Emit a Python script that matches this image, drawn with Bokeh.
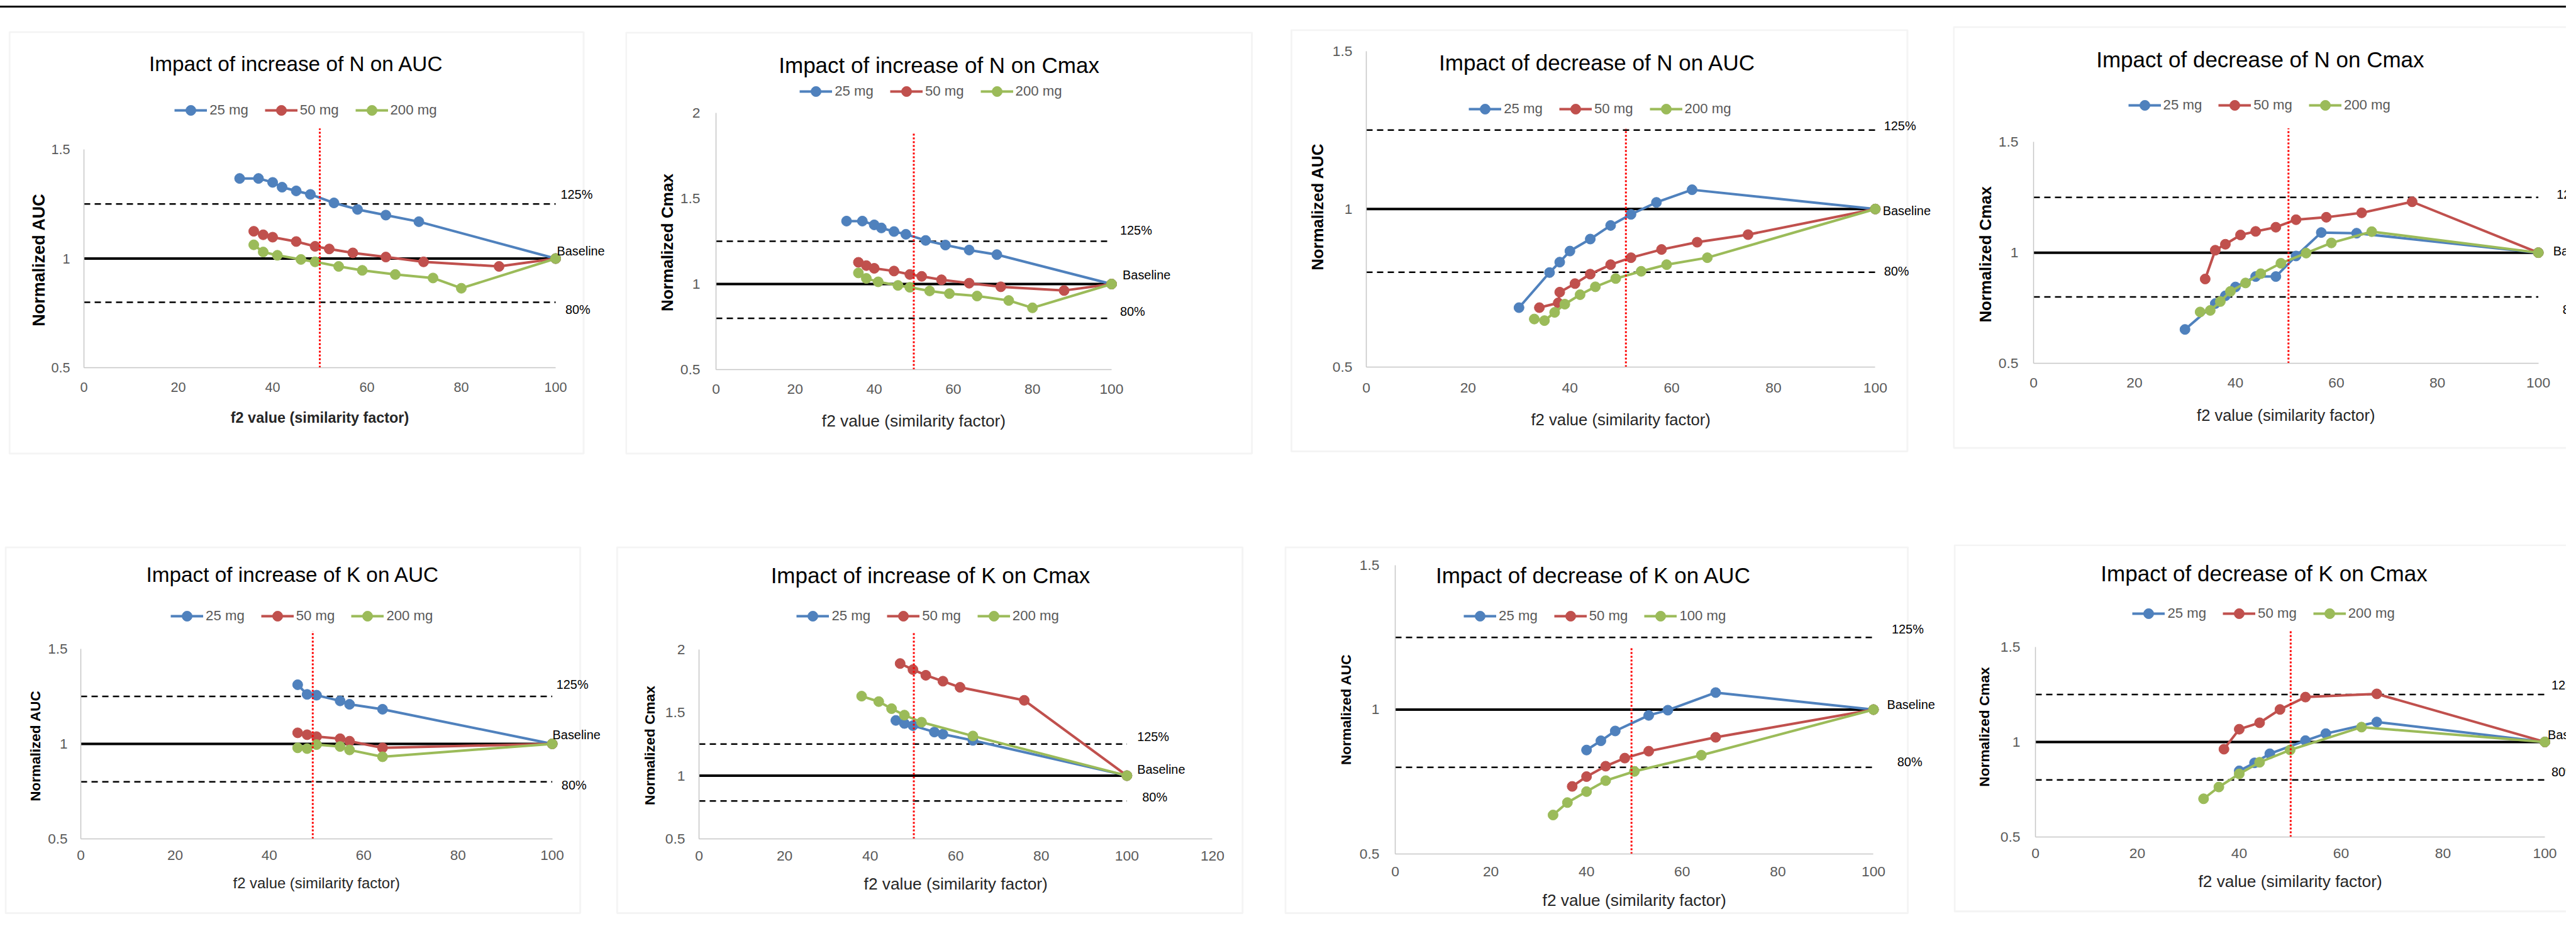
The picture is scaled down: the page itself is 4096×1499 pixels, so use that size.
import math
from bokeh.plotting import figure
from bokeh.models import (Range1d, FixedTicker, NumeralTickFormatter, Legend,
                          LegendItem, Label, BoxAnnotation, Spacer)
from bokeh.layouts import row, column
from bokeh.core.properties import value
from bokeh.embed import file_html
from bokeh.resources import INLINE

# ---------------------------------------------------------------- data
DOSES = ["25 mg", "50 mg", "200 mg"]
DOSES_K_DEC_AUC = ["25 mg", "50 mg", "100 mg"]
COLORS = ["#4F81BD", "#C0504D", "#9BBB59"]
UPPER, LOWER, BASE = 1.25, 0.80, 1.0
REF_X = [0, 100]
REF_LABELS = ["125%", "Baseline", "80%"]
XLABEL = "f2 value (similarity factor)"

# f2 cut-off (red dotted) per panel: x position and top of the drawn line
CUT_X = [50, 50, 51, 50.5, 49.2, 50.2, 49.4, 50.1]
CUT_TOP = [1.596, 1.881, 1.254, 1.562, 1.593, 2.138, 1.216, 1.592]

# Impact of increase of N on AUC
n_inc_auc_x25 = [33, 37, 40, 42, 45, 48, 53, 58, 64, 71, 100]
n_inc_auc_y25 = [1.367, 1.367, 1.349, 1.327, 1.310, 1.294, 1.255, 1.225, 1.199, 1.169, 1.0]
n_inc_auc_x50 = [36, 38, 40, 45, 49, 52, 57, 64, 72, 88, 100]
n_inc_auc_y50 = [1.125, 1.109, 1.098, 1.078, 1.056, 1.044, 1.026, 1.007, 0.985, 0.964, 1.0]
n_inc_auc_x200 = [36, 38, 41, 46, 49, 54, 59, 66, 74, 80, 100]
n_inc_auc_y200 = [1.063, 1.030, 1.015, 0.996, 0.985, 0.964, 0.946, 0.927, 0.911, 0.864, 1.0]

# Impact of increase of N on Cmax
n_inc_cmax_x25 = [33, 37, 40, 41.8, 45, 48, 53, 58, 64, 71, 100]
n_inc_cmax_y25 = [1.368, 1.368, 1.346, 1.328, 1.307, 1.291, 1.255, 1.228, 1.199, 1.172, 1.0]
n_inc_cmax_x50 = [36, 38, 40, 45, 49, 52, 57, 64, 72, 88, 100]
n_inc_cmax_y50 = [1.127, 1.108, 1.092, 1.076, 1.056, 1.045, 1.025, 1.005, 0.984, 0.962, 1.0]
n_inc_cmax_x200 = [36, 38, 41, 46, 49, 54, 59, 66, 74, 80, 100]
n_inc_cmax_y200 = [1.065, 1.033, 1.013, 0.992, 0.981, 0.960, 0.944, 0.930, 0.904, 0.861, 1.0]

# Impact of decrease of N on AUC
n_dec_auc_x25 = [30, 36, 38, 40, 44, 48, 52, 57, 64, 100]
n_dec_auc_y25 = [0.688, 0.799, 0.832, 0.867, 0.905, 0.948, 0.983, 1.021, 1.061, 1.0]
n_dec_auc_x50 = [34, 37.7, 38, 41, 44, 48, 52, 58, 65, 75, 100]
n_dec_auc_y50 = [0.688, 0.703, 0.737, 0.764, 0.794, 0.824, 0.846, 0.872, 0.895, 0.919, 1.0]
n_dec_auc_x200 = [33, 35, 37, 39, 42, 45, 49, 54, 59, 67, 100]
n_dec_auc_y200 = [0.652, 0.647, 0.673, 0.699, 0.729, 0.754, 0.780, 0.803, 0.824, 0.846, 1.0]

# Impact of decrease of N on Cmax
n_dec_cmax_x25 = [30, 36, 38, 40, 44, 48, 52, 57, 64, 100]
n_dec_cmax_y25 = [0.653, 0.770, 0.805, 0.845, 0.892, 0.892, 0.985, 1.091, 1.088, 1.0]
n_dec_cmax_x50 = [34, 36, 38, 41, 44, 48, 52, 58, 65, 75, 100]
n_dec_cmax_y50 = [0.881, 1.011, 1.038, 1.080, 1.096, 1.115, 1.149, 1.160, 1.180, 1.230, 1.0]
n_dec_cmax_x200 = [33, 35, 37, 39, 42, 45, 49, 54, 59, 67, 100]
n_dec_cmax_y200 = [0.732, 0.739, 0.779, 0.825, 0.863, 0.905, 0.952, 0.998, 1.044, 1.095, 1.0]

# Impact of increase of K on AUC
k_inc_auc_x = [46, 48, 50, 55, 57, 64, 100]
k_inc_auc_y25 = [1.311, 1.260, 1.256, 1.226, 1.208, 1.182, 1.0]
k_inc_auc_y50 = [1.058, 1.048, 1.038, 1.027, 1.014, 0.979, 1.0]
k_inc_auc_y200 = [0.979, 0.975, 0.996, 0.986, 0.968, 0.932, 1.0]

# Impact of increase of K on Cmax
k_inc_cmax_x25 = [46, 48, 50, 55, 57, 64, 100]
k_inc_cmax_y25 = [1.437, 1.413, 1.396, 1.345, 1.328, 1.279, 1.0]
k_inc_cmax_x50 = [47, 50, 53, 57, 61, 76, 100]
k_inc_cmax_y50 = [1.887, 1.839, 1.794, 1.747, 1.699, 1.596, 1.0]
k_inc_cmax_x200 = [38, 42, 45, 48, 52, 64, 100]
k_inc_cmax_y200 = [1.629, 1.586, 1.530, 1.479, 1.423, 1.314, 1.0]

# Impact of decrease of K on AUC
k_dec_auc_x25 = [40, 43, 46, 53, 57, 67, 100]
k_dec_auc_y25 = [0.860, 0.892, 0.926, 0.980, 0.998, 1.059, 1.0]
k_dec_auc_x50 = [37, 40, 44, 48, 53, 67, 100]
k_dec_auc_y50 = [0.734, 0.768, 0.804, 0.832, 0.856, 0.904, 1.0]
k_dec_auc_x100 = [33, 36, 40, 44, 50, 64, 100]
k_dec_auc_y100 = [0.635, 0.678, 0.716, 0.754, 0.786, 0.842, 1.0]

# Impact of decrease of K on Cmax
k_dec_cmax_x25 = [40, 43, 46, 53, 57, 67, 100]
k_dec_cmax_y25 = [0.848, 0.890, 0.938, 1.007, 1.044, 1.105, 1.0]
k_dec_cmax_x50 = [37, 40, 44, 48, 53, 67, 100]
k_dec_cmax_y50 = [0.962, 1.067, 1.101, 1.171, 1.236, 1.253, 1.0]
k_dec_cmax_x200 = [33, 36, 40, 44, 50, 64, 100]
k_dec_cmax_y200 = [0.701, 0.763, 0.832, 0.893, 0.958, 1.078, 1.0]

SERIES = [
    [(n_inc_auc_x25, n_inc_auc_y25), (n_inc_auc_x50, n_inc_auc_y50), (n_inc_auc_x200, n_inc_auc_y200)],
    [(n_inc_cmax_x25, n_inc_cmax_y25), (n_inc_cmax_x50, n_inc_cmax_y50), (n_inc_cmax_x200, n_inc_cmax_y200)],
    [(n_dec_auc_x25, n_dec_auc_y25), (n_dec_auc_x50, n_dec_auc_y50), (n_dec_auc_x200, n_dec_auc_y200)],
    [(n_dec_cmax_x25, n_dec_cmax_y25), (n_dec_cmax_x50, n_dec_cmax_y50), (n_dec_cmax_x200, n_dec_cmax_y200)],
    [(k_inc_auc_x, k_inc_auc_y25), (k_inc_auc_x, k_inc_auc_y50), (k_inc_auc_x, k_inc_auc_y200)],
    [(k_inc_cmax_x25, k_inc_cmax_y25), (k_inc_cmax_x50, k_inc_cmax_y50), (k_inc_cmax_x200, k_inc_cmax_y200)],
    [(k_dec_auc_x25, k_dec_auc_y25), (k_dec_auc_x50, k_dec_auc_y50), (k_dec_auc_x100, k_dec_auc_y100)],
    [(k_dec_cmax_x25, k_dec_cmax_y25), (k_dec_cmax_x50, k_dec_cmax_y50), (k_dec_cmax_x200, k_dec_cmax_y200)],
]

# ---------------------------------------------------------------- layout (reference px)
S = 0.679
OFF = 8
PAGE_W = 4080
SANS = "Liberation Sans"
NF = 0.86  # narrow (Calibri-like) reference text -> Liberation Sans size factor


def Lx(v):
    return int(round(v * S)) - OFF


# ylab: (text, centre x, bottom y where the rotated text starts, font size) in reference px
PANELS = [
    dict(title="Impact of increase of N on AUC", canvas=(31, 1475, 84, 1078), border=(31, 1380, 84, 1075),
         ax0=208, kx=11.046, ay0=872, ky=511, ymax=1.5, xmax=100, tc=(705, 161), tfs=57,
         leg=(420, 270), ylab=("Normalized  AUC", 103, 775, 39.8), xbold=True, xlab_cy=989,
         xlab_fs=40, ytick_r=176, xtick_cy=925, tick_fs=37, labpos=[(1324, 466), (1315, 598), (1335, 735)],
         doses=DOSES),
    dict(title="Impact of increase of N on Cmax", canvas=(1475, 3033, 85, 1078), border=(1475, 2945, 85, 1075),
         ax0=1688.5, kx=9.263, ay0=876.2, ky=400.5, ymax=2.0, xmax=100, tc=(2210, 164), tfs=60,
         leg=(1884, 226), ylab=("Normalized  Cmax", 1573, 740, 38.4), xbold=False, xlab_cy=996,
         xlab_fs=45, ytick_r=1652, xtick_cy=929, tick_fs=39, labpos=[(2634, 550), (2640, 654), (2634, 740)],
         doses=DOSES),
    dict(title="Impact  of decrease of N on AUC", canvas=(3033, 4584, 79, 1073), border=(3033, 4480, 79, 1070),
         ax0=3210, kx=11.92, ay0=870, ky=740, ymax=1.5, xmax=100, tc=(3759, 158), tfs=60,
         leg=(3451, 267), ylab=("Normalized AUC", 3097, 644, 38.0), xbold=False, xlab_cy=993,
         xlab_fs=44, ytick_r=3177, xtick_cy=926, tick_fs=39, labpos=[(4423, 305), (4420, 505), (4423, 646)],
         doses=DOSES),
    dict(title="Impact of decrease of N on Cmax", canvas=(4584, None, 72, 1065), border=(4584, 6100, 72, 1062),
         ax0=4773, kx=11.82, ay0=862, ky=518, ymax=1.5, xmax=100, tc=(5304, 150), tfs=60,
         leg=(4995, 258), ylab=("Normalized  Cmax", 4661, 766, 38.0), xbold=False, xlab_cy=983,
         xlab_fs=43.7, ytick_r=4737, xtick_cy=916, tick_fs=39, labpos=[(5998, 466), (5990, 599), (6012, 735)],
         doses=DOSES),
    dict(title="Impact of increase of K on AUC", canvas=(22, 1454, 1290, 2154), border=(22, 1372, 1290, 2151),
         ax0=201, kx=11.04, ay0=1975, ky=445, ymax=1.5, xmax=100, tc=(697, 1357), tfs=57,
         leg=(411, 1453), ylab=("Normalized  AUC", 94, 1887, 33.2), xbold=False, xlab_cy=2078,
         xlab_fs=41, ytick_r=170, xtick_cy=2020, tick_fs=38.5, labpos=[(1314, 1614), (1305, 1731), (1326, 1849)],
         doses=DOSES),
    dict(title="Impact of increase of K on Cmax", canvas=(1454, 3019, 1290, 2154), border=(1454, 2923, 1290, 2151),
         ax0=1648, kx=10.02, ay0=1975, ky=296, ymax=2.0, xmax=120, tc=(2190, 1358), tfs=60,
         leg=(1877, 1453), ylab=("Normalized  Cmax", 1533, 1896, 33.3), xbold=False, xlab_cy=2081,
         xlab_fs=45, ytick_r=1615, xtick_cy=2022, tick_fs=39, labpos=[(2674, 1735), (2674, 1812), (2686, 1877)],
         doses=DOSES),
    dict(title="Impact  of decrease of K on AUC", canvas=(3019, 4586, 1290, 2154), border=(3019, 4481, 1290, 2151),
         ax0=3279, kx=11.2, ay0=2011, ky=676, ymax=1.5, xmax=100, tc=(3750, 1358), tfs=60,
         leg=(3439, 1453), ylab=("Normalized  AUC", 3163, 1802, 33.2), xbold=False, xlab_cy=2118,
         xlab_fs=45, ytick_r=3242, xtick_cy=2060, tick_fs=39, labpos=[(4441, 1484), (4430, 1660), (4454, 1795)],
         doses=DOSES_K_DEC_AUC),
    dict(title="Impact of decrease of K on Cmax", canvas=(4586, None, 1285, 2150), border=(4586, 6100, 1285, 2147),
         ax0=4777, kx=11.93, ay0=1970, ky=445, ymax=1.5, xmax=100, tc=(5313, 1354), tfs=60,
         leg=(5005, 1447), ylab=("Normalized  Cmax", 4658, 1853, 33.5), xbold=False, xlab_cy=2075,
         xlab_fs=45, ytick_r=4742, xtick_cy=2016, tick_fs=39, labpos=[(5986, 1615), (5977, 1731), (5986, 1818)],
         doses=DOSES),
]

YMIN = 0.5


def px(v):
    return "%.1fpx" % v


def make_panel(i):
    sp = PANELS[i]
    cl, cr, ct, cb = sp["canvas"]
    left = Lx(cl)
    right = PAGE_W if cr is None else Lx(cr)
    top, bottom = Lx(ct), Lx(cb)
    W, H = right - left, bottom - top
    ox = Lx(sp["ax0"]) - left          # canvas x of the axis origin
    oy = Lx(sp["ay0"]) - top           # canvas y (from top) of the axis origin
    kx, ky = sp["kx"] * S, sp["ky"] * S  # output px per data unit
    x0, x1 = -ox / kx, (W - ox) / kx
    y0, y1 = YMIN - (H - oy) / ky, YMIN + oy / ky

    def cxd(c):   # canvas x (px) -> data x
        return x0 + c / kx

    def cyd(c):   # canvas y from top (px) -> data y
        return y1 - c / ky

    def dx(X):    # reference x (full px) -> data x
        return cxd(X * S - OFF - left)

    def dy(Y):
        return cyd(Y * S - OFF - top)

    p = figure(width=W, height=H, x_range=Range1d(x0, x1), y_range=Range1d(y0, y1),
               output_backend="svg", toolbar_location=None, title=None,
               min_border_left=0, min_border_right=0, min_border_top=0, min_border_bottom=0,
               background_fill_color="white", border_fill_color="white", outline_line_color=None)
    p.xgrid.visible = False
    p.ygrid.visible = False

    # chart-area border
    bl, br, bt, bb = sp["border"]
    p.add_layout(BoxAnnotation(left=dx(bl) + 1.5 / kx, right=dx(br) - 1.5 / kx,
                               top=dy(bt) - 1.5 / ky, bottom=dy(bb) + 1.5 / ky,
                               fill_alpha=0, fill_color=None, line_color="#d9d9d9", line_width=3,
                               level="underlay"))

    # reference lines
    p.line(REF_X, [UPPER, UPPER], line_color="black", line_width=2.5, line_dash="10 7")
    p.line(REF_X, [LOWER, LOWER], line_color="black", line_width=2.5, line_dash="10 7")
    p.line(REF_X, [BASE, BASE], line_color="black", line_width=4)

    items = []
    for (xs, ys), color, name in zip(SERIES[i], COLORS, sp["doses"]):
        rl = p.line(xs, ys, line_color=color, line_width=4)
        rs = p.scatter(xs, ys, size=16, fill_color=color, line_color=color)
        items.append(LegendItem(label=name, renderers=[rl, rs]))

    # f2 = 50 cut-off
    p.line([CUT_X[i], CUT_X[i]], [YMIN, CUT_TOP[i]], line_color="#ff0000", line_width=3, line_dash="3 3")

    # reference labels
    p.text(x=[dx(X) for X, _ in sp["labpos"]], y=[dy(Y) for _, Y in sp["labpos"]], text=REF_LABELS,
           text_font=value(SANS), text_font_size=value(px(34 * S * NF)), text_color="black",
           text_align="left", text_baseline="middle")

    # title
    p.add_layout(Label(x=dx(sp["tc"][0]), y=dy(sp["tc"][1]), text=sp["title"], text_align="center",
                       text_baseline="middle", text_font=SANS,
                       text_font_size=px(sp["tfs"] * S * NF), text_color="black"))

    # axis titles
    ytxt, ycx, ybot, yfs = sp["ylab"]
    p.add_layout(Label(x=dx(ycx), y=dy(ybot), text=ytxt, angle=math.pi / 2,
                       text_align="left", text_baseline="middle", text_font=SANS,
                       text_font_style="bold", text_font_size=px(yfs * S), text_color="black"))
    p.add_layout(Label(x=sp["xmax"] / 2, y=dy(sp["xlab_cy"]), text=XLABEL,
                       text_align="center", text_baseline="middle", text_font=SANS,
                       text_font_style="bold" if sp["xbold"] else "normal",
                       text_font_size=px(sp["xlab_fs"] * S * NF), text_color="#262626"))

    # legend
    gh = 40
    leg = Legend(items=items, orientation="horizontal",
                 location=((sp["leg"][0] * S - OFF - left), (H - (sp["leg"][1] * S - OFF - top)) - gh / 2),
                 padding=0, margin=0, spacing=26, glyph_width=52, glyph_height=gh, label_standoff=4,
                 label_text_font=SANS, label_text_font_size=px(38 * S * NF),
                 label_text_color="#595959", border_line_color=None, background_fill_alpha=0)
    p.add_layout(leg)

    # axes, drawn at fixed data locations inside the full-canvas frame
    tfs = sp["tick_fs"] * S * NF
    xa, ya = p.xaxis[0], p.yaxis[0]
    xa.fixed_location = YMIN
    ya.fixed_location = 0
    xa.bounds = (0, sp["xmax"])
    xa.ticker = FixedTicker(ticks=list(range(0, sp["xmax"] + 1, 20)))
    ya.bounds = (YMIN, sp["ymax"])
    ya.ticker = FixedTicker(ticks=[0.5, 1.0, 1.5, 2.0] if sp["ymax"] > 1.9 else [0.5, 1.0, 1.5])
    for a in (xa, ya):
        a.formatter = NumeralTickFormatter(format="0.[0]")
        a.axis_line_color = "#c6c6c6"
        a.axis_line_width = 1.5
        a.major_tick_line_color = None
        a.minor_tick_line_color = None
        a.major_tick_out = 0
        a.major_tick_in = 0
        a.major_label_text_font = SANS
        a.major_label_text_font_size = px(tfs)
        a.major_label_text_color = "#595959"
    ya.major_label_standoff = int(round((sp["ax0"] - sp["ytick_r"]) * S))
    xa.major_label_standoff = int(round((sp["xtick_cy"] - sp["ay0"]) * S - 0.58 * tfs))
    return p, top, bottom, left


figs = [make_panel(i) for i in range(8)]


def build_row(entries):
    row_top = min(e[1] for e in entries)
    children = []
    lead = entries[0][3]
    if lead > 0:
        children.append(Spacer(width=lead, height=1))
    for p, top, bottom, left in entries:
        if top > row_top:
            children.append(column(Spacer(width=p.width, height=top - row_top), p))
        else:
            children.append(p)
    return row(*children), row_top, max(e[2] for e in entries)


row1, r1_top, r1_bot = build_row(figs[:4])
row2, r2_top, r2_bot = build_row(figs[4:])

line_top = Lx(25)
line_h = 3
page = column(
    Spacer(width=PAGE_W, height=line_top),
    Spacer(width=PAGE_W, height=line_h, styles={"background-color": "#000000"}),
    Spacer(width=PAGE_W, height=r1_top - line_top - line_h),
    row1,
    Spacer(width=PAGE_W, height=r2_top - r1_bot),
    row2,
)

open("out.html", "w").write(file_html(page, INLINE, title="Impact of N and K on AUC and Cmax"))
